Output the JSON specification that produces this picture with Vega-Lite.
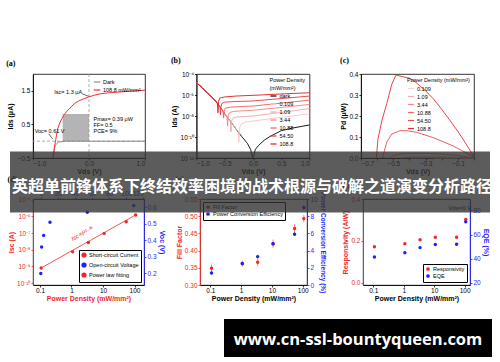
{
  "$schema": "https://vega.github.io/schema/vega-lite/v6.json",
  "padding": {"left": 5, "top": 56, "right": 0, "bottom": 0},
  "config": {
    "font": "Liberation Sans",
    "view": {"stroke": "black", "strokeWidth": 0.8},
    "title": {"anchor": "start", "frame": "bounds", "font": "Liberation Serif", "fontSize": 8, "fontWeight": "bold", "offset": 6, "color": "black"},
    "axis": {"labelFontSize": 6.5, "titleFontSize": 7, "titleFontWeight": "bold", "tickSize": 2, "labelPadding": 1, "titlePadding": 2, "grid": false, "domainColor": "black", "tickColor": "black", "labelColor": "black", "titleColor": "black", "domainWidth": 0.8, "tickWidth": 0.8},
    "axisX": {"labelPadding": 0.5, "titlePadding": 0.5},
    "legend": {"labelFontSize": 5.5, "titleFontSize": 5.5, "titleFontWeight": "normal", "symbolSize": 14, "rowPadding": 0, "padding": 1, "labelOffset": 2, "offset": 3, "titlePadding": 1, "gradientHorizontalMaxLength": 600, "gradientHorizontalMinLength": 10}
  },
  "spacing": 0,
  "vconcat": [
    {
      "hconcat": [
        {
          "title": "(a)",
          "width": 112,
          "height": 84,
          "layer": [
            {
              "data": {"values": [{"x": -0.47, "x2": 0, "y": 0, "y2": 0.81}]},
              "mark": {"type": "rect", "color": "#b4b4b4"},
              "encoding": {
                "x": {"field": "x", "type": "quantitative", "scale": {"domain": [-1, 1], "nice": false, "zero": false}, "axis": {"title": "Vds (V)", "values": [-1, -0.5, 0, 0.5, 1], "format": ".1f"}},
                "x2": {"field": "x2"},
                "y": {"field": "y", "type": "quantitative", "scale": {"domain": [-0.5, 2], "nice": false, "zero": false}, "axis": {"title": "Ids (μA)", "values": [-0.5, 0, 0.5, 1, 1.5, 2], "format": ".1f", "titlePadding": 4}},
                "y2": {"field": "y2"}
              }
            },
            {
              "data": {"values": [{"y": 0}]},
              "mark": {"type": "rule", "color": "#999999", "strokeDash": [3, 2], "strokeWidth": 0.8},
              "encoding": {"y": {"field": "y", "type": "quantitative"}}
            },
            {
              "data": {"values": [{"x": 0}]},
              "mark": {"type": "rule", "color": "#999999", "strokeDash": [3, 2], "strokeWidth": 0.8},
              "encoding": {"x": {"field": "x", "type": "quantitative"}}
            },
            {
              "data": {"values": [
                {"x": -0.644, "y": -0.5, "s": "Dark"}, {"x": -0.63, "y": -0.36, "s": "Dark"}, {"x": -0.617, "y": -0.22, "s": "Dark"}, {"x": -0.6, "y": -0.12, "s": "Dark"}, {"x": -0.576, "y": -0.07, "s": "Dark"}, {"x": -0.55, "y": -0.035, "s": "Dark"}, {"x": -0.52, "y": -0.02, "s": "Dark"}, {"x": -0.45, "y": -0.005, "s": "Dark"}, {"x": -0.4, "y": 0, "s": "Dark"}, {"x": 1, "y": 0, "s": "Dark"},
                {"x": -0.644, "y": -0.5, "s": "108.8 mW/mm²"}, {"x": -0.62, "y": -0.2, "s": "108.8 mW/mm²"}, {"x": -0.6, "y": -0.02, "s": "108.8 mW/mm²"}, {"x": -0.58, "y": 0.18, "s": "108.8 mW/mm²"}, {"x": -0.56, "y": 0.36, "s": "108.8 mW/mm²"}, {"x": -0.52, "y": 0.55, "s": "108.8 mW/mm²"}, {"x": -0.48, "y": 0.68, "s": "108.8 mW/mm²"}, {"x": -0.44, "y": 0.8, "s": "108.8 mW/mm²"}, {"x": -0.39, "y": 0.9, "s": "108.8 mW/mm²"}, {"x": -0.32, "y": 1.02, "s": "108.8 mW/mm²"}, {"x": -0.25, "y": 1.13, "s": "108.8 mW/mm²"}, {"x": -0.18, "y": 1.2, "s": "108.8 mW/mm²"}, {"x": -0.1, "y": 1.26, "s": "108.8 mW/mm²"}, {"x": 0, "y": 1.32, "s": "108.8 mW/mm²"}, {"x": 0.1, "y": 1.37, "s": "108.8 mW/mm²"}, {"x": 0.2, "y": 1.41, "s": "108.8 mW/mm²"}, {"x": 0.35, "y": 1.44, "s": "108.8 mW/mm²"}, {"x": 0.5, "y": 1.46, "s": "108.8 mW/mm²"}, {"x": 0.75, "y": 1.49, "s": "108.8 mW/mm²"}, {"x": 1, "y": 1.52, "s": "108.8 mW/mm²"}
              ]},
              "mark": {"type": "line", "strokeWidth": 1},
              "encoding": {
                "x": {"field": "x", "type": "quantitative"},
                "y": {"field": "y", "type": "quantitative"},
                "color": {"field": "s", "type": "nominal", "scale": {"domain": ["Dark", "108.8 mW/mm²"], "range": ["#8c8c8c", "#f03030"]}, "legend": {"orient": "top-right", "title": null, "symbolType": "stroke", "symbolSize": 42, "symbolStrokeWidth": 1.2}}
              }
            },
            {
              "data": {"values": [{"x": -0.12, "y": 1.41, "x2": -0.01, "y2": 1.34}, {"x": -0.72, "y": 0.22, "x2": -0.645, "y2": 0.06}]},
              "mark": {"type": "rule", "color": "black", "strokeWidth": 0.6},
              "encoding": {"x": {"field": "x", "type": "quantitative"}, "y": {"field": "y", "type": "quantitative"}, "x2": {"field": "x2"}, "y2": {"field": "y2"}}
            },
            {
              "data": {"values": [{"x": -0.62, "y": 1.46, "t": "Isc= 1.3 μA"}, {"x": -0.97, "y": 0.31, "t": "Voc= 0.61 V"}, {"x": 0.08, "y": 0.67, "t": "Pmax= 0.39 μW"}, {"x": 0.08, "y": 0.48, "t": "FF= 0.5"}, {"x": 0.08, "y": 0.3, "t": "PCE= 9%"}]},
              "mark": {"type": "text", "align": "left", "baseline": "middle", "fontSize": 5.5, "color": "black"},
              "encoding": {"x": {"field": "x", "type": "quantitative"}, "y": {"field": "y", "type": "quantitative"}, "text": {"field": "t"}}
            }
          ]
        },
        {
          "title": "(b)",
          "width": 113,
          "height": 84,
          "data": {"values": [
            {"x": -1.0, "y": 1.48e-5, "s": "dark"}, {"x": -0.9, "y": 5.0e-6, "s": "dark"}, {"x": -0.8, "y": 1.41e-6, "s": "dark"}, {"x": -0.7, "y": 4.5e-7, "s": "dark"}, {"x": -0.6, "y": 1e-7, "s": "dark"}, {"x": -0.5, "y": 1.66e-8, "s": "dark"}, {"x": -0.4, "y": 3.16e-9, "s": "dark"}, {"x": -0.3, "y": 5.6e-10, "s": "dark"}, {"x": -0.2, "y": 1.12e-10, "s": "dark"}, {"x": -0.1, "y": 2.5e-11, "s": "dark"}, {"x": -0.04, "y": 6.3e-12, "s": "dark"}, {"x": -0.01, "y": 1.1e-12, "s": "dark"}, {"x": 0.01, "y": 1.3e-12, "s": "dark"}, {"x": 0.04, "y": 6.3e-12, "s": "dark"}, {"x": 0.1, "y": 1.6e-11, "s": "dark"}, {"x": 0.2, "y": 5e-11, "s": "dark"}, {"x": 0.3, "y": 1.12e-10, "s": "dark"}, {"x": 0.5, "y": 4e-10, "s": "dark"}, {"x": 0.7, "y": 7.1e-10, "s": "dark"}, {"x": 1.0, "y": 1.4e-9, "s": "dark"},
            {"x": -1.0, "y": 1.48e-5, "s": "0.109"}, {"x": -0.9, "y": 5.0e-6, "s": "0.109"}, {"x": -0.8, "y": 1.41e-6, "s": "0.109"}, {"x": -0.7, "y": 4.5e-7, "s": "0.109"}, {"x": -0.6, "y": 1e-7, "s": "0.109"}, {"x": -0.5, "y": 1.66e-8, "s": "0.109"}, {"x": -0.4, "y": 3.16e-9, "s": "0.109"}, {"x": -0.3, "y": 5.6e-10, "s": "0.109"}, {"x": -0.26, "y": 3.2e-10, "s": "0.109"}, {"x": -0.25, "y": 3.2e-11, "s": "0.109"}, {"x": -0.24, "y": 6e-10, "s": "0.109"}, {"x": -0.22, "y": 1.5e-9, "s": "0.109"}, {"x": -0.15, "y": 2.5e-9, "s": "0.109"}, {"x": -0.05, "y": 3.1e-9, "s": "0.109"}, {"x": 0, "y": 3.3e-9, "s": "0.109"}, {"x": 0.5, "y": 7.5e-9, "s": "0.109"}, {"x": 1.0, "y": 1.6e-8, "s": "0.109"},
            {"x": -1.0, "y": 1.48e-5, "s": "1.09"}, {"x": -0.9, "y": 5.0e-6, "s": "1.09"}, {"x": -0.8, "y": 1.41e-6, "s": "1.09"}, {"x": -0.7, "y": 4.5e-7, "s": "1.09"}, {"x": -0.6, "y": 1e-7, "s": "1.09"}, {"x": -0.5, "y": 1.66e-8, "s": "1.09"}, {"x": -0.4, "y": 3.16e-9, "s": "1.09"}, {"x": -0.39, "y": 3.2e-10, "s": "1.09"}, {"x": -0.38, "y": 3e-9, "s": "1.09"}, {"x": -0.36, "y": 6e-9, "s": "1.09"}, {"x": -0.3, "y": 8e-9, "s": "1.09"}, {"x": -0.15, "y": 9e-9, "s": "1.09"}, {"x": 0, "y": 1e-8, "s": "1.09"}, {"x": 0.5, "y": 2.2e-8, "s": "1.09"}, {"x": 1.0, "y": 5e-8, "s": "1.09"},
            {"x": -1.0, "y": 1.48e-5, "s": "3.44"}, {"x": -0.9, "y": 5.0e-6, "s": "3.44"}, {"x": -0.8, "y": 1.41e-6, "s": "3.44"}, {"x": -0.7, "y": 4.5e-7, "s": "3.44"}, {"x": -0.6, "y": 1e-7, "s": "3.44"}, {"x": -0.5, "y": 1.66e-8, "s": "3.44"}, {"x": -0.46, "y": 8e-9, "s": "3.44"}, {"x": -0.45, "y": 1.1e-9, "s": "3.44"}, {"x": -0.44, "y": 1e-8, "s": "3.44"}, {"x": -0.42, "y": 2e-8, "s": "3.44"}, {"x": -0.35, "y": 2.7e-8, "s": "3.44"}, {"x": -0.2, "y": 3.1e-8, "s": "3.44"}, {"x": 0, "y": 3.5e-8, "s": "3.44"}, {"x": 0.5, "y": 6.6e-8, "s": "3.44"}, {"x": 1.0, "y": 1.26e-7, "s": "3.44"},
            {"x": -1.0, "y": 1.48e-5, "s": "10.88"}, {"x": -0.9, "y": 5.0e-6, "s": "10.88"}, {"x": -0.8, "y": 1.41e-6, "s": "10.88"}, {"x": -0.7, "y": 4.5e-7, "s": "10.88"}, {"x": -0.6, "y": 1e-7, "s": "10.88"}, {"x": -0.53, "y": 2.8e-8, "s": "10.88"}, {"x": -0.52, "y": 6.3e-9, "s": "10.88"}, {"x": -0.51, "y": 3e-8, "s": "10.88"}, {"x": -0.49, "y": 5.5e-8, "s": "10.88"}, {"x": -0.4, "y": 7e-8, "s": "10.88"}, {"x": -0.2, "y": 8e-8, "s": "10.88"}, {"x": 0, "y": 8.9e-8, "s": "10.88"}, {"x": 0.5, "y": 1.7e-7, "s": "10.88"}, {"x": 1.0, "y": 3.2e-7, "s": "10.88"},
            {"x": -1.0, "y": 1.48e-5, "s": "54.50"}, {"x": -0.9, "y": 5.0e-6, "s": "54.50"}, {"x": -0.8, "y": 1.41e-6, "s": "54.50"}, {"x": -0.7, "y": 4.5e-7, "s": "54.50"}, {"x": -0.6, "y": 1e-7, "s": "54.50"}, {"x": -0.585, "y": 8e-8, "s": "54.50"}, {"x": -0.575, "y": 1.3e-8, "s": "54.50"}, {"x": -0.565, "y": 8e-8, "s": "54.50"}, {"x": -0.55, "y": 1.6e-7, "s": "54.50"}, {"x": -0.5, "y": 2.1e-7, "s": "54.50"}, {"x": -0.3, "y": 2.4e-7, "s": "54.50"}, {"x": 0, "y": 2.7e-7, "s": "54.50"}, {"x": 0.5, "y": 4.6e-7, "s": "54.50"}, {"x": 1.0, "y": 7.9e-7, "s": "54.50"},
            {"x": -1.0, "y": 1.48e-5, "s": "108.8"}, {"x": -0.9, "y": 5.0e-6, "s": "108.8"}, {"x": -0.8, "y": 1.41e-6, "s": "108.8"}, {"x": -0.7, "y": 4.5e-7, "s": "108.8"}, {"x": -0.65, "y": 2.3e-7, "s": "108.8"}, {"x": -0.63, "y": 1.5e-7, "s": "108.8"}, {"x": -0.62, "y": 2e-8, "s": "108.8"}, {"x": -0.61, "y": 2.5e-7, "s": "108.8"}, {"x": -0.59, "y": 5e-7, "s": "108.8"}, {"x": -0.5, "y": 6.5e-7, "s": "108.8"}, {"x": -0.3, "y": 8e-7, "s": "108.8"}, {"x": 0, "y": 9.3e-7, "s": "108.8"}, {"x": 0.5, "y": 1.25e-6, "s": "108.8"}, {"x": 1.0, "y": 1.66e-6, "s": "108.8"}
          ]},
          "mark": {"type": "line", "strokeWidth": 0.9},
          "encoding": {
            "x": {"field": "x", "type": "quantitative", "scale": {"domain": [-1, 1], "nice": false, "zero": false}, "axis": {"title": "Vds (V)", "values": [-1, -0.5, 0, 0.5, 1], "format": ".1f"}},
            "y": {"field": "y", "type": "quantitative", "scale": {"type": "log", "domain": [1e-12, 1e-4], "nice": false}, "axis": {"title": "Ids (A)", "values": [1e-12, 1e-10, 1e-8, 1e-6, 1e-4], "labelExpr": "datum.value < 1e-11 ? '10⁻¹²' : datum.value < 1e-9 ? '10⁻¹⁰' : datum.value < 1e-7 ? '10⁻⁸' : datum.value < 1e-5 ? '10⁻⁶' : '10⁻⁴'"}},
            "color": {"field": "s", "type": "nominal", "scale": {"domain": ["dark", "0.109", "1.09", "3.44", "10.88", "54.50", "108.8"], "range": ["#000000", "#f9c4c4", "#f5a3a3", "#f08080", "#ec5c5c", "#e83a3a", "#e41a1a"]}, "legend": {"orient": "top-right", "title": ["Power Density", "(mW/mm²)"], "symbolType": "stroke", "symbolSize": 36, "symbolStrokeWidth": 1.2}}
          }
        },
        {
          "title": "(c)",
          "width": 113,
          "height": 84,
          "data": {"values": [
            {"x": -0.25, "y": 0, "s": "0.109"}, {"x": -0.15, "y": 0.0002, "s": "0.109"}, {"x": 0, "y": 0, "s": "0.109"},
            {"x": -0.39, "y": 0, "s": "1.09"}, {"x": -0.3, "y": 0.0015, "s": "1.09"}, {"x": -0.2, "y": 0.0014, "s": "1.09"}, {"x": -0.1, "y": 0.0008, "s": "1.09"}, {"x": 0, "y": 0, "s": "1.09"},
            {"x": -0.45, "y": 0, "s": "3.44"}, {"x": -0.42, "y": 0.004, "s": "3.44"}, {"x": -0.35, "y": 0.006, "s": "3.44"}, {"x": -0.25, "y": 0.0055, "s": "3.44"}, {"x": -0.1, "y": 0.003, "s": "3.44"}, {"x": 0, "y": 0, "s": "3.44"},
            {"x": -0.52, "y": 0, "s": "10.88"}, {"x": -0.5, "y": 0.012, "s": "10.88"}, {"x": -0.45, "y": 0.02, "s": "10.88"}, {"x": -0.4, "y": 0.022, "s": "10.88"}, {"x": -0.3, "y": 0.022, "s": "10.88"}, {"x": -0.2, "y": 0.019, "s": "10.88"}, {"x": -0.1, "y": 0.012, "s": "10.88"}, {"x": 0, "y": 0, "s": "10.88"},
            {"x": -0.566, "y": 0, "s": "54.50"}, {"x": -0.541, "y": 0.075, "s": "54.50"}, {"x": -0.51, "y": 0.114, "s": "54.50"}, {"x": -0.458, "y": 0.13, "s": "54.50"}, {"x": -0.417, "y": 0.13, "s": "54.50"}, {"x": -0.355, "y": 0.122, "s": "54.50"}, {"x": -0.252, "y": 0.097, "s": "54.50"}, {"x": -0.128, "y": 0.057, "s": "54.50"}, {"x": 0, "y": 0.005, "s": "54.50"},
            {"x": -0.605, "y": 0, "s": "108.8"}, {"x": -0.595, "y": 0.09, "s": "108.8"}, {"x": -0.57, "y": 0.18, "s": "108.8"}, {"x": -0.54, "y": 0.26, "s": "108.8"}, {"x": -0.51, "y": 0.35, "s": "108.8"}, {"x": -0.483, "y": 0.395, "s": "108.8"}, {"x": -0.44, "y": 0.387, "s": "108.8"}, {"x": -0.4, "y": 0.38, "s": "108.8"}, {"x": -0.36, "y": 0.36, "s": "108.8"}, {"x": -0.3, "y": 0.32, "s": "108.8"}, {"x": -0.25, "y": 0.28, "s": "108.8"}, {"x": -0.2, "y": 0.232, "s": "108.8"}, {"x": -0.15, "y": 0.18, "s": "108.8"}, {"x": -0.1, "y": 0.127, "s": "108.8"}, {"x": -0.05, "y": 0.068, "s": "108.8"}, {"x": 0, "y": 0.005, "s": "108.8"}
          ]},
          "mark": {"type": "line", "strokeWidth": 0.9},
          "encoding": {
            "x": {"field": "x", "type": "quantitative", "scale": {"domain": [-0.7, 0], "nice": false, "zero": false}, "axis": {"title": "Vds (V)", "values": [-0.7, -0.6, -0.5, -0.4, -0.3, -0.2, -0.1, 0], "format": ".1f"}},
            "y": {"field": "y", "type": "quantitative", "scale": {"domain": [0, 0.4], "nice": false}, "axis": {"title": "Pd (μW)", "values": [0, 0.1, 0.2, 0.3, 0.4], "format": ".1f"}},
            "color": {"field": "s", "type": "nominal", "scale": {"domain": ["0.109", "1.09", "3.44", "10.88", "54.50", "108.8"], "range": ["#fad0d0", "#f6b0b0", "#f28e8e", "#ee6a6a", "#ea4c4c", "#e63030"]}, "legend": {"orient": "top-right", "title": "Power Density (mW/mm²)", "symbolType": "stroke", "symbolSize": 36, "symbolStrokeWidth": 1.2}}
          }
        }
      ],
      "spacing": 51.5,
      "bounds": "flush",
      "resolve": {"scale": {"color": "independent"}, "legend": {"color": "independent"}}
    },
    {
      "hconcat": [
        {
          "title": {"text": "(d)", "offset": 7},
          "width": 111,
          "height": 86,
          "layer": [
            {
              "layer": [
                {
                  "data": {"values": [{"p": 0.109, "v": 7.9e-10}, {"p": 1.09, "v": 7.6e-9}, {"p": 3.44, "v": 2.7e-8}, {"p": 10.88, "v": 9.5e-8}, {"p": 54.5, "v": 4.7e-7}, {"p": 108.8, "v": 1.2e-6}]},
                  "mark": {"type": "point", "filled": true, "size": 12, "opacity": 1},
                  "encoding": {
                    "x": {"field": "p", "type": "quantitative", "scale": {"type": "log", "domain": [0.06, 200], "nice": false}, "axis": {"title": "Power Density (mW/mm²)", "titleColor": "#f02828", "values": [0.1, 1, 10, 100], "format": "~g"}},
                    "y": {"field": "v", "type": "quantitative", "scale": {"type": "log", "domain": [7.6e-11, 1.1e-5], "nice": false}, "axis": {"title": "Isc (A)", "titleColor": "#f02828", "labelColor": "#f02828", "tickColor": "#f02828", "domainColor": "#f02828", "values": [1e-10, 1e-9, 1e-8, 1e-7, 1e-6, 1e-5], "labelExpr": "datum.value < 5e-10 ? '10⁻¹⁰' : datum.value < 5e-9 ? '10⁻⁹' : datum.value < 5e-8 ? '10⁻⁸' : datum.value < 5e-7 ? '10⁻⁷' : datum.value < 5e-6 ? '10⁻⁶' : '10⁻⁵'"}},
                    "color": {"datum": "Short-circuit Current", "scale": {"domain": ["Short-circuit Current", "Open-circuit Voltage", "Power law fitting"], "range": ["#f02828", "#1f1fff", "#f02828"]}, "legend": {"orient": "bottom-right", "title": null, "strokeColor": "black", "fillColor": "white", "padding": 2}}
                  }
                },
                {
                  "data": {"values": [{"p": 0.109, "v": 8e-10}, {"p": 108.8, "v": 1.21e-6}]},
                  "mark": {"type": "line", "strokeWidth": 0.8},
                  "encoding": {
                    "x": {"field": "p", "type": "quantitative"},
                    "y": {"field": "v", "type": "quantitative"},
                    "color": {"datum": "Power law fitting"}
                  }
                },
                {
                  "data": {"values": [{"p": 2.45, "v": 6.5e-8, "t": "Isc∝P¹·⁰⁶"}]},
                  "mark": {"type": "text", "color": "#f02828", "angle": -29, "fontSize": 6, "fontStyle": "italic", "baseline": "bottom"},
                  "encoding": {"x": {"field": "p", "type": "quantitative"}, "y": {"field": "v", "type": "quantitative"}, "text": {"field": "t"}}
                }
              ]
            },
            {
              "data": {"values": [{"pl": 0.109, "voc": 0.2}, {"pl": 1.09, "voc": 0.36}, {"pl": 3.44, "voc": 0.43}, {"pl": 10.88, "voc": 0.51}, {"pl": 54.5, "voc": 0.57}, {"pl": 108.8, "voc": 0.61}]},
              "mark": {"type": "point", "filled": true, "size": 12, "opacity": 1},
              "encoding": {
                "x": {"field": "pl", "type": "quantitative", "scale": {"domain": [-9, 120.8], "nice": false, "zero": false}, "axis": {"orient": "top", "title": null, "values": [0, 20, 40, 60, 80, 100, 120], "labelColor": "#1f1fff", "tickColor": "#1f1fff", "domainColor": "#1f1fff"}},
                "y": {"field": "voc", "type": "quantitative", "scale": {"domain": [0.13, 0.65], "nice": false, "zero": false}, "axis": {"orient": "right", "title": "Voc (V)", "titleColor": "#1f1fff", "labelColor": "#1f1fff", "tickColor": "#1f1fff", "domainColor": "#1f1fff", "values": [0.2, 0.3, 0.4, 0.5, 0.6], "format": ".1f"}},
                "color": {"datum": "Open-circuit Voltage"}
              }
            }
          ],
          "resolve": {"scale": {"x": "independent", "y": "independent"}}
        },
        {
          "title": {"text": "(e)", "offset": 7},
          "width": 107,
          "height": 86,
          "data": {"values": [
            {"p": 0.109, "ff": 0.349, "fflo": 0.339, "ffhi": 0.359, "pce": 1.4, "pcelo": 1.25, "pcehi": 1.55},
            {"p": 1.09, "ff": 0.362, "fflo": 0.353, "ffhi": 0.371, "pce": 2.5, "pcelo": 2.35, "pcehi": 2.65},
            {"p": 3.44, "ff": 0.366, "fflo": 0.355, "ffhi": 0.377, "pce": 3.3, "pcelo": 3.1, "pcehi": 3.5},
            {"p": 10.88, "ff": 0.42, "fflo": 0.408, "ffhi": 0.432, "pce": 4.8, "pcelo": 4.6, "pcehi": 5.0},
            {"p": 54.5, "ff": 0.464, "fflo": 0.451, "ffhi": 0.477, "pce": 5.9, "pcelo": 5.7, "pcehi": 6.1},
            {"p": 108.8, "ff": 0.493, "fflo": 0.482, "ffhi": 0.504, "pce": 9.0, "pcelo": 8.7, "pcehi": 9.3}
          ]},
          "layer": [
            {
              "layer": [
                {
                  "mark": {"type": "point", "filled": true, "size": 12, "opacity": 1},
                  "encoding": {
                    "x": {"field": "p", "type": "quantitative", "scale": {"type": "log", "domain": [0.046, 138], "nice": false}, "axis": {"title": "Power Density (mW/mm²)", "values": [0.1, 1, 10, 100], "format": "~g"}},
                    "y": {"field": "ff", "type": "quantitative", "scale": {"domain": [0.3, 0.55], "nice": false, "zero": false}, "axis": {"title": "Fill Factor", "titleColor": "#f02828", "labelColor": "#f02828", "tickColor": "#f02828", "domainColor": "#f02828", "values": [0.3, 0.35, 0.4, 0.45, 0.5, 0.55], "format": ".2f"}},
                    "color": {"datum": "Fill Factor", "scale": {"domain": ["Fill Factor", "Power Conversion Efficiency"], "range": ["#f02828", "#1f1fff"]}, "legend": {"orient": "top-left", "title": null, "strokeColor": "black", "fillColor": "white", "padding": 2}}
                  }
                },
                {
                  "mark": {"type": "rule", "color": "#f02828", "strokeWidth": 0.6},
                  "encoding": {
                    "x": {"field": "p", "type": "quantitative"},
                    "y": {"field": "fflo", "type": "quantitative", "axis": {"title": "Fill Factor", "titleColor": "#f02828", "labelColor": "#f02828", "tickColor": "#f02828", "domainColor": "#f02828", "values": [0.3, 0.35, 0.4, 0.45, 0.5, 0.55], "format": ".2f"}},
                    "y2": {"field": "ffhi"}
                  }
                }
              ]
            },
            {
              "layer": [
                {
                  "mark": {"type": "point", "filled": true, "size": 12, "opacity": 1},
                  "encoding": {
                    "x": {"field": "p", "type": "quantitative"},
                    "y": {"field": "pce", "type": "quantitative", "scale": {"domain": [0, 10], "nice": false}, "axis": {"orient": "right", "title": "Power Conversion Efficiency (%)", "titleColor": "#1f1fff", "labelColor": "#1f1fff", "tickColor": "#1f1fff", "domainColor": "#1f1fff", "values": [0, 2, 4, 6, 8, 10], "titleFontSize": 6.5}},
                    "color": {"datum": "Power Conversion Efficiency"}
                  }
                },
                {
                  "mark": {"type": "rule", "color": "#1f1fff", "strokeWidth": 0.6},
                  "encoding": {
                    "x": {"field": "p", "type": "quantitative"},
                    "y": {"field": "pcelo", "type": "quantitative", "axis": {"orient": "right", "title": "Power Conversion Efficiency (%)", "titleColor": "#1f1fff", "labelColor": "#1f1fff", "tickColor": "#1f1fff", "domainColor": "#1f1fff", "values": [0, 2, 4, 6, 8, 10], "titleFontSize": 6.5}},
                    "y2": {"field": "pcehi"}
                  }
                }
              ]
            }
          ],
          "resolve": {"scale": {"y": "independent"}}
        },
        {
          "title": {"text": "(f)", "offset": 7},
          "width": 107,
          "height": 86,
          "data": {"values": [
            {"p": 0.109, "r": 0.173, "eqe": 41.4},
            {"p": 1.09, "r": 0.187, "eqe": 45.0},
            {"p": 3.44, "r": 0.206, "eqe": 49.2},
            {"p": 10.88, "r": 0.218, "eqe": 51.7},
            {"p": 54.5, "r": 0.218, "eqe": 52.0},
            {"p": 108.8, "r": 0.302, "eqe": 70.5}
          ]},
          "layer": [
            {
              "layer": [
                {
                  "mark": {"type": "point", "filled": true, "size": 12, "opacity": 1},
                  "encoding": {
                    "x": {"field": "p", "type": "quantitative", "scale": {"type": "log", "domain": [0.046, 150], "nice": false}, "axis": {"title": "Power Density (mW/mm²)", "values": [0.1, 1, 10, 100], "format": "~g"}},
                    "y": {"field": "r", "type": "quantitative", "scale": {"domain": [-0.0096, 0.4], "nice": false, "zero": false}, "axis": {"title": "Responsivity (A/W)", "titleColor": "#f02828", "labelColor": "#f02828", "tickColor": "#f02828", "domainColor": "#f02828", "values": [0, 0.1, 0.2, 0.3, 0.4], "format": ".1f"}},
                    "color": {"datum": "Responsivity", "scale": {"domain": ["Responsivity", "EQE"], "range": ["#f02828", "#1f1fff"]}, "legend": {"orient": "bottom-right", "title": null, "strokeColor": "black", "fillColor": "white", "padding": 2}}
                  }
                },
                {
                  "data": {"values": [{"p": 69, "r": 0.358, "t": "Vds=0 V"}]},
                  "mark": {"type": "text", "fontSize": 6, "color": "black", "baseline": "middle"},
                  "encoding": {"x": {"field": "p", "type": "quantitative"}, "y": {"field": "r", "type": "quantitative"}, "text": {"field": "t"}}
                }
              ]
            },
            {
              "mark": {"type": "point", "filled": true, "size": 12, "opacity": 1},
              "encoding": {
                "x": {"field": "p", "type": "quantitative"},
                "y": {"field": "eqe", "type": "quantitative", "scale": {"domain": [18.3, 89.4], "nice": false, "zero": false}, "axis": {"orient": "right", "title": "EQE (%)", "titleColor": "#1f1fff", "labelColor": "#1f1fff", "tickColor": "#1f1fff", "domainColor": "#1f1fff", "values": [20, 40, 60, 80]}},
                "color": {"datum": "EQE"}
              }
            }
          ],
          "resolve": {"scale": {"y": "independent"}}
        }
      ],
      "spacing": 56,
      "bounds": "flush",
      "resolve": {"scale": {"color": "independent"}, "legend": {"color": "independent"}}
    },
    {
      "spacing": 0,
      "vconcat": [
        {
          "width": 1,
          "height": 14,
          "view": {"stroke": "transparent", "fill": "transparent"},
          "data": {"values": [{"t": ""}]},
          "mark": {"type": "text"},
          "encoding": {"text": {"field": "t"}}
        },
        {
          "spacing": 0,
          "hconcat": [
            {
              "width": 190,
              "height": 38,
              "view": {"stroke": "transparent", "fill": "transparent"},
              "data": {"values": [{"t": ""}]},
              "mark": {"type": "text"},
              "encoding": {"text": {"field": "t"}}
            },
            {
              "width": 268,
              "height": 38,
              "view": {"stroke": null, "fill": "#000000"},
              "data": {"values": [{"u": "www.cn-ssl-bountyqueen.com", "k": "banner", "b": 0.5}]},
              "mark": {"type": "text", "font": "Open Sans", "fontSize": 16.5, "fontWeight": "bold", "baseline": "middle", "dy": 2, "strokeWidth": 0},
              "encoding": {
                "text": {"field": "u"},
                "fill": {
                  "field": "k", "type": "nominal",
                  "scale": {"domain": ["banner"], "range": ["#ffffff"]},
                  "legend": {
                    "orient": "none", "legendX": -21, "legendY": 105, "zindex": 2,
                    "title": "英超单前锋体系下终结效率困境的战术根源与破解之道演变分析路径",
                    "titleFont": "Noto Sans CJK SC", "titleFontSize": 16, "titleFontWeight": "bold", "titleColor": "white",
                    "titleLimit": 1000, "titlePadding": 0, "padding": 0,
                    "symbolOpacity": 0, "symbolSize": 1, "labelExpr": "''", "labelFontSize": 1
                  }
                },
                "stroke": {
                  "field": "b", "type": "quantitative",
                  "scale": {"domain": [0, 1], "range": ["rgba(51,51,51,0.8)", "rgba(51,51,51,0.8)"]},
                  "legend": {
                    "orient": "none", "legendX": -23, "legendY": 77.6, "zindex": 1,
                    "title": null, "direction": "horizontal", "padding": 0,
                    "gradientLength": 480, "gradientThickness": 61, "gradientStrokeWidth": 0,
                    "labelExpr": "''", "labelFontSize": 1, "tickCount": 2
                  }
                }
              }
            }
          ]
        }
      ]
    }
  ]
}
